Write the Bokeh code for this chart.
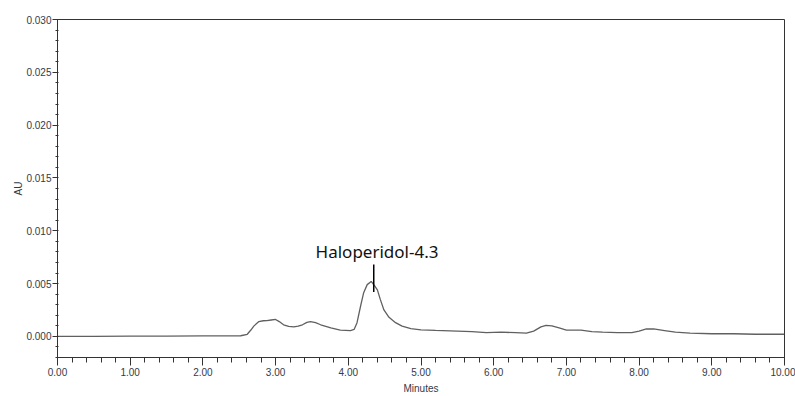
from bokeh.plotting import figure
from bokeh.models import FixedTicker, NumeralTickFormatter, Range1d
from bokeh.embed import file_html
from bokeh.resources import INLINE
from bokeh.core.properties import value

# Chromatogram trace
times = [0.0, 0.5, 1.0, 1.5, 2.0, 2.3, 2.52, 2.61, 2.66, 2.70, 2.77, 2.83, 2.88, 2.94, 3.0,
         3.05, 3.11, 3.18, 3.25, 3.31, 3.37, 3.43, 3.48, 3.55, 3.62, 3.76, 3.89, 4.03,
         4.08, 4.12, 4.17, 4.21, 4.26, 4.315, 4.36, 4.40, 4.44, 4.49, 4.56, 4.65, 4.74,
         4.86, 5.0, 5.2, 5.5, 5.7, 5.9, 6.1, 6.3, 6.45, 6.55, 6.65, 6.72, 6.8, 6.9, 7.0,
         7.1, 7.2, 7.35, 7.5, 7.7, 7.9, 8.0, 8.1, 8.2, 8.35, 8.5, 8.7, 9.0, 9.3, 9.6, 10.0]
au = [0.0, 0.0, 0.00002, 0.00003, 0.00004, 0.00005, 0.00006, 0.0002, 0.0006, 0.00097,
      0.0014, 0.00148, 0.0015, 0.00155, 0.0016, 0.0014, 0.0011, 0.00095, 0.0009, 0.00097,
      0.0011, 0.00133, 0.0014, 0.0013, 0.0011, 0.0008, 0.0006, 0.00055,
      0.00066, 0.0013, 0.0029, 0.0041, 0.0049, 0.0052, 0.0048, 0.0044, 0.0035, 0.0025,
      0.0018, 0.0013, 0.00097, 0.00073, 0.00062, 0.00057, 0.0005, 0.00045, 0.00035, 0.0004,
      0.00035, 0.0003, 0.0005, 0.0009, 0.00105, 0.0010, 0.0008, 0.0006, 0.0006, 0.0006,
      0.00045, 0.0004, 0.00035, 0.00035, 0.0005, 0.0007, 0.0007, 0.00055, 0.0004, 0.0003,
      0.00025, 0.00025, 0.0002, 0.0002]

x_ticks = [0, 1, 2, 3, 4, 5, 6, 7, 8, 9, 10]
x_minor = [i * 0.2 for i in range(51)]
y_ticks = [0.0, 0.005, 0.010, 0.015, 0.020, 0.025, 0.030]
y_minor = [-0.002 + i * 0.001 for i in range(33)]

peak_name = "Haloperidol-4.3"
peak_x = 4.35
peak_top = 0.0068
peak_bottom = 0.0042
label_x = 4.395
label_y = 0.0080

FONT = "Liberation Sans"
TXT = "#333a48"

p = figure(width=795, height=396, output_backend="svg", toolbar_location=None,
           x_range=Range1d(0, 10), y_range=Range1d(-0.002, 0.030),
           min_border_left=57, min_border_right=11, min_border_top=19, min_border_bottom=38)

p.line(times, au, line_color="#606060", line_width=1.3)
p.segment(x0=[peak_x], y0=[peak_bottom], x1=[peak_x], y1=[peak_top], line_color="black", line_width=1.5)
p.text(x=[label_x], y=[label_y], text=[peak_name], text_font=value("Noto Sans"),
       text_font_size="17px", text_align="center", text_baseline="alphabetic", text_color="#111111")

p.grid.visible = False
p.outline_line_color = "#333333"
p.outline_line_width = 1
p.background_fill_color = "white"
p.border_fill_color = "white"

xa = p.xaxis[0]
xa.ticker = FixedTicker(ticks=x_ticks, minor_ticks=x_minor)
xa.formatter = NumeralTickFormatter(format="0.00")
xa.axis_label = "Minutes"
xa.axis_label_text_font = FONT
xa.axis_label_text_font_style = "normal"
xa.axis_label_text_font_size = "10px"
xa.axis_label_text_color = TXT
xa.axis_label_standoff = 4
xa.major_label_text_font = FONT
xa.major_label_text_font_size = "10px"
xa.major_label_text_color = TXT
xa.major_label_standoff = 2
xa.major_tick_out = 8
xa.major_tick_in = 0
xa.minor_tick_out = 5
xa.minor_tick_in = 0
xa.axis_line_color = "#333333"
xa.major_tick_line_color = "#333333"
xa.minor_tick_line_color = "#333333"

ya = p.yaxis[0]
ya.ticker = FixedTicker(ticks=y_ticks, minor_ticks=y_minor)
ya.formatter = NumeralTickFormatter(format="0.000")
ya.axis_label = "AU"
ya.axis_label_text_font = FONT
ya.axis_label_text_font_style = "normal"
ya.axis_label_text_font_size = "10px"
ya.axis_label_text_color = TXT
ya.axis_label_standoff = -1
ya.major_label_text_font = FONT
ya.major_label_text_font_size = "10px"
ya.major_label_text_color = TXT
ya.major_label_standoff = 1
ya.major_tick_out = 5
ya.major_tick_in = 0
ya.minor_tick_out = 2
ya.minor_tick_in = 1
ya.axis_line_color = "#333333"
ya.major_tick_line_color = "#333333"
ya.minor_tick_line_color = "#333333"

open("out.html", "w").write(file_html(p, INLINE))
